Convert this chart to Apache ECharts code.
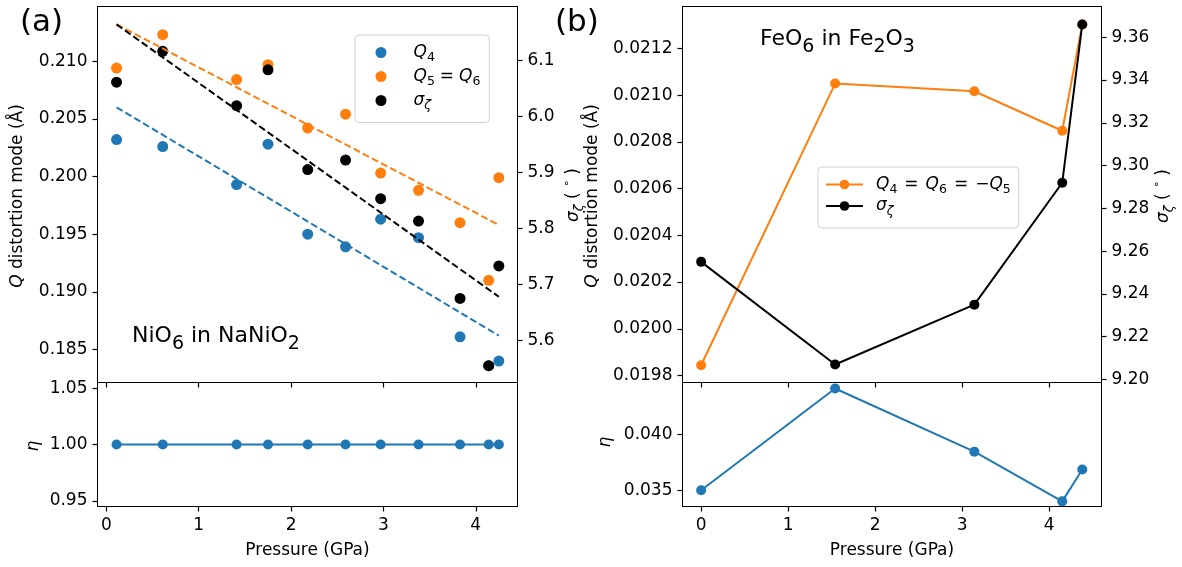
<!DOCTYPE html>
<html><head><meta charset="utf-8">
<script src="https://cdn.jsdelivr.net/npm/echarts@6/dist/echarts.min.js"></script>
<style>html,body{margin:0;padding:0;background:#fff}#c{width:1182px;height:567px}</style>
</head><body><div id="c"></div>
<script>
// ---------- Panel (a): NiO6 in NaNiO2 ----------
const pressureA = [0.11, 0.61, 1.41, 1.75, 2.18, 2.59, 2.97, 3.38, 3.83, 4.14, 4.25];
const q4A      = [0.2032, 0.2026, 0.1993, 0.2028, 0.1950, 0.1939, 0.1963, 0.1947, 0.1861, 0.1836, 0.1840];
const q56A     = [0.2094, 0.2123, 0.2084, 0.2097, 0.2042, 0.2054, 0.2003, 0.1988, 0.1960, 0.1910, 0.1999];
const sigmaA   = [6.061, 6.116, 6.019, 6.083, 5.905, 5.922, 5.853, 5.813, 5.675, 5.555, 5.733];
const etaA     = [1, 1, 1, 1, 1, 1, 1, 1, 1, 1, 1];
const fitPressureA = [0.11, 4.25];
const fitQ4A    = [0.2060, 0.1862];
const fitQ56A   = [0.2132, 0.1958];
const fitSigmaA = [6.164, 5.678];
// ---------- Panel (b): FeO6 in Fe2O3 ----------
const pressureB = [0, 1.54, 3.14, 4.15, 4.38];
const qB     = [0.019844, 0.021050, 0.021017, 0.020848, 0.021303];
const sigmaB = [9.255, 9.207, 9.235, 9.292, 9.366];
const etaB   = [0.0350, 0.0441, 0.03845, 0.0340, 0.03685];
// ---------- Tick labels ----------
const xTicks     = [0, 1, 2, 3, 4];
const qTicksA    = [0.185, 0.190, 0.195, 0.200, 0.205, 0.210];
const sigTicksA  = [5.6, 5.7, 5.8, 5.9, 6.0, 6.1];
const etaTicksA  = [0.95, 1.00, 1.05];
const qTicksB    = [0.0198, 0.0200, 0.0202, 0.0204, 0.0206, 0.0208, 0.0210, 0.0212];
const sigTicksB  = [9.20, 9.22, 9.24, 9.26, 9.28, 9.30, 9.32, 9.34, 9.36];
const etaTicksB  = [0.035, 0.040];

const FONT = 'DejaVu Sans';
const BLUE = '#1f77b4', ORANGE = '#ff7f0e', BLACK = '#000000';
const FS = 17;

// rich styles for component text (legend)
const richBase = {
  n:  {fontFamily: FONT, fontSize: FS, lineHeight: 24, color: '#000'},
  e:  {fontFamily: FONT, fontSize: FS, lineHeight: 24, color: '#000', padding: [0, 5]},
  e2: {fontFamily: FONT, fontSize: FS, lineHeight: 24, color: '#000', padding: [0, 7]},
  i:  {fontFamily: FONT, fontSize: FS, lineHeight: 24, fontStyle: 'italic', color: '#000'},
  s:  {fontFamily: FONT, fontSize: 12.5, lineHeight: 12, verticalAlign: 'bottom', fontStyle: 'italic', color: '#000'},
  d:  {fontFamily: FONT, fontSize: 12.5, lineHeight: 12, verticalAlign: 'bottom', color: '#000'}
};
function richWithLead(lead) {
  return Object.assign({}, richBase, {
    fi: {fontFamily: FONT, fontSize: FS, lineHeight: 24, fontStyle: 'italic', color: '#000', padding: [0, 0, 0, lead]}
  });
}
// rich styles for graphic text
const richG = {
  n:  {fontFamily: FONT, fontSize: FS, lineHeight: 24, fill: '#000'},
  i:  {fontFamily: FONT, fontSize: FS, lineHeight: 24, fontStyle: 'italic', fill: '#000'},
  s:  {fontFamily: FONT, fontSize: 12.5, lineHeight: 12, verticalAlign: 'bottom', fontStyle: 'italic', fill: '#000'},
  sup:{fontFamily: FONT, fontSize: 11, lineHeight: 12, verticalAlign: 'top', fill: '#000'},
  m:  {fontFamily: FONT, fontSize: 22, lineHeight: 35, fill: '#000'},
  u:  {fontFamily: FONT, fontSize: 19, lineHeight: 19, verticalAlign: 'bottom', fill: '#000'}
};
const sigmaName = '{i|σ}{s|ζ}{n| ( }{sup|∘}{n| )}';
const qName = '{i|Q}{n| distortion mode (Å)}';

function pairs(xs, ys) { return xs.map((x, i) => [x, ys[i]]); }
function vTitle(x, y, text) {
  return {type: 'text', x, y, rotation: Math.PI / 2, silent: true,
    style: {text, rich: richG, align: 'center', verticalAlign: 'middle', fill: '#000'}};
}

const tickStyle = {color: '#000', width: 1.2};
function xAxisCfg(gridIndex, showLabel, min, max) {
  return {
    type: 'value', gridIndex, min, max, position: 'bottom',
    axisLine: {show: true, onZero: false, lineStyle: {color: '#000', width: 1}}, splitLine: {show: false},
    axisTick: {show: true, length: 5, lineStyle: tickStyle, customValues: xTicks},
    axisLabel: {show: showLabel, customValues: xTicks, margin: 11, fontFamily: FONT, fontSize: FS, color: '#000'},
    name: showLabel ? 'Pressure (GPa)' : '', nameLocation: 'middle', nameGap: 36,
    nameTextStyle: {fontFamily: FONT, fontSize: FS, color: '#000'}
  };
}
function yAxisCfg(gridIndex, position, min, max, ticks, dec) {
  return {
    type: 'value', gridIndex, position, min, max,
    axisLine: {show: true, onZero: false, lineStyle: {color: '#000', width: 1}}, splitLine: {show: false},
    axisTick: {show: true, length: 5, lineStyle: tickStyle, customValues: ticks},
    axisLabel: {customValues: ticks, margin: 10, fontFamily: FONT, fontSize: FS, color: '#000',
      formatter: v => Number(v).toFixed(dec)}
  };
}

const gridBox = {show: true, borderColor: '#000', borderWidth: 1, backgroundColor: '#fff',
  outerBoundsMode: 'none', containLabel: false};
const xMinA = -0.0964, xMaxA = 4.452, xMinB = -0.214, xMaxB = 4.601;

const option = {
  animation: false,
  backgroundColor: '#fff',
  grid: [
    Object.assign({left: 97.5, top: 6.5, width: 420, height: 376}, gridBox),
    Object.assign({left: 97.5, top: 382.5, width: 420, height: 124}, gridBox),
    Object.assign({left: 682.5, top: 6.5, width: 419, height: 376}, gridBox),
    Object.assign({left: 682.5, top: 382.5, width: 419, height: 124}, gridBox)
  ],
  xAxis: [
    xAxisCfg(0, false, xMinA, xMaxA),
    xAxisCfg(1, true, xMinA, xMaxA),
    xAxisCfg(2, false, xMinB, xMaxB),
    xAxisCfg(3, true, xMinB, xMaxB)
  ],
  yAxis: [
    yAxisCfg(0, 'left', 0.18214, 0.21474, qTicksA, 3),
    yAxisCfg(0, 'right', 5.525, 6.196, sigTicksA, 1),
    yAxisCfg(1, 'left', 0.945, 1.055, etaTicksA, 2),
    yAxisCfg(2, 'left', 0.01977, 0.02138, qTicksB, 4),
    yAxisCfg(2, 'right', 9.1986, 9.3744, sigTicksB, 2),
    yAxisCfg(3, 'left', 0.03354, 0.04464, etaTicksB, 3)
  ],
  legend: [
    {
      data: [{name: 'Q4', icon: 'circle'}, {name: 'Q56', icon: 'circle'}, {name: 'sigA', icon: 'circle'}],
      orient: 'vertical', left: 355, top: 35,
      padding: [9, 9, 10, 20.5], itemWidth: 50, itemHeight: 11, itemGap: 3.5,
      borderColor: '#d0d0d0', borderWidth: 1, borderRadius: 4, backgroundColor: 'rgba(255,255,255,0.8)',
      textStyle: {fontFamily: FONT, fontSize: FS, color: '#000', rich: richWithLead(2.5)},
      formatter: n => ({Q4: '{fi|Q}{d|4}', Q56: '{fi|Q}{d|5}{e|=}{i|Q}{d|6}', sigA: '{fi|σ}{s|ζ}'})[n]
    },
    {
      data: ['qB', 'sigB'], orient: 'vertical', left: 818, top: 167,
      padding: [9, 8, 10, 7], itemWidth: 37, itemHeight: 12, itemGap: 1,
      borderColor: '#d0d0d0', borderWidth: 1, borderRadius: 4, backgroundColor: 'rgba(255,255,255,0.8)',
      textStyle: {fontFamily: FONT, fontSize: FS, color: '#000', rich: richWithLead(8)},
      formatter: n => ({qB: '{fi|Q}{d|4}{e2|=}{i|Q}{d|6}{e2|=}{n|−}{i|Q}{d|5}', sigB: '{fi|σ}{s|ζ}'})[n]
    }
  ],
  graphic: [
    {type: 'text', x: 20, y: 23, style: {text: '(a)', font: '31px "DejaVu Sans"', fill: '#000', verticalAlign: 'middle', align: 'left'}},
    {type: 'text', x: 555, y: 23, style: {text: '(b)', font: '31px "DejaVu Sans"', fill: '#000', verticalAlign: 'middle', align: 'left'}},
    {type: 'text', x: 132, y: 336, style: {text: '{m|NiO}{u|6}{m| in NaNiO}{u|2}', verticalAlign: 'middle', align: 'left', rich: richG}},
    {type: 'text', x: 760, y: 39, style: {text: '{m|FeO}{u|6}{m| in Fe}{u|2}{m|O}{u|3}', verticalAlign: 'middle', align: 'left', rich: richG}},
    vTitle(18, 196, qName),
    vTitle(574, 195, sigmaName),
    vTitle(34, 446, '{i|η}'),
    vTitle(593, 196, qName),
    vTitle(1164, 196, sigmaName),
    vTitle(606, 442, '{i|η}')
  ],
  series: [
    {name: 'fitQ4', type: 'line', xAxisIndex: 0, yAxisIndex: 0, data: pairs(fitPressureA, fitQ4A),
     symbol: 'none', lineStyle: {color: BLUE, width: 2, type: [7, 3.3]}, silent: true},
    {name: 'fitQ56', type: 'line', xAxisIndex: 0, yAxisIndex: 0, data: pairs(fitPressureA, fitQ56A),
     symbol: 'none', lineStyle: {color: ORANGE, width: 2, type: [7, 3.3]}, silent: true},
    {name: 'fitSig', type: 'line', xAxisIndex: 0, yAxisIndex: 1, data: pairs(fitPressureA, fitSigmaA),
     symbol: 'none', lineStyle: {color: BLACK, width: 2, type: [7, 3.3]}, silent: true},
    {name: 'Q4', type: 'scatter', xAxisIndex: 0, yAxisIndex: 0, data: pairs(pressureA, q4A),
     symbol: 'circle', symbolSize: 11, itemStyle: {color: BLUE, opacity: 1}},
    {name: 'Q56', type: 'scatter', xAxisIndex: 0, yAxisIndex: 0, data: pairs(pressureA, q56A),
     symbol: 'circle', symbolSize: 11, itemStyle: {color: ORANGE, opacity: 1}},
    {name: 'sigA', type: 'scatter', xAxisIndex: 0, yAxisIndex: 1, data: pairs(pressureA, sigmaA),
     symbol: 'circle', symbolSize: 11, itemStyle: {color: BLACK, opacity: 1}},
    {name: 'etaA', type: 'line', xAxisIndex: 1, yAxisIndex: 2, data: pairs(pressureA, etaA),
     symbol: 'circle', symbolSize: 10, lineStyle: {color: BLUE, width: 2}, itemStyle: {color: BLUE}},
    {name: 'qB', type: 'line', xAxisIndex: 2, yAxisIndex: 3, data: pairs(pressureB, qB),
     symbol: 'circle', symbolSize: 10, lineStyle: {color: ORANGE, width: 2}, itemStyle: {color: ORANGE}},
    {name: 'sigB', type: 'line', xAxisIndex: 2, yAxisIndex: 4, data: pairs(pressureB, sigmaB),
     symbol: 'circle', symbolSize: 10, lineStyle: {color: BLACK, width: 2}, itemStyle: {color: BLACK}},
    {name: 'etaB', type: 'line', xAxisIndex: 3, yAxisIndex: 5, data: pairs(pressureB, etaB),
     symbol: 'circle', symbolSize: 10, lineStyle: {color: BLUE, width: 2}, itemStyle: {color: BLUE}}
  ]
};
const chart = echarts.init(document.getElementById('c'), null, {renderer: 'canvas'});
chart.setOption(option);
</script>
</body></html>
